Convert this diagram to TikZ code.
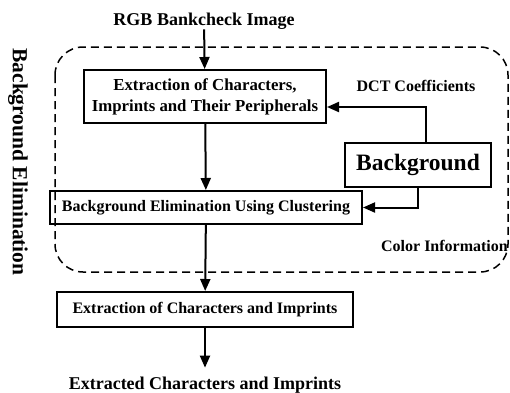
\documentclass[tikz,border=0pt]{standalone}
\usepackage{fontspec}
\setmainfont{Liberation Serif}
\usepackage{tikz}
\usetikzlibrary{arrows.meta}
\tikzset{flow/.style={-{Triangle[length=12pt,width=10pt]},line width=2pt}}
\tikzset{stage/.style={draw,line width=2pt,inner sep=0pt,align=center,font=\bfseries\fontsize{16}{21}\selectfont}}
\tikzset{caption/.style={inner sep=0pt,font=\bfseries\fontsize{16}{19}\selectfont}}
\begin{document}
\begin{tikzpicture}[x=1pt,y=-1pt]
    \useasboundingbox (0,0) rectangle (510,392);
    \node[caption,font=\bfseries\fontsize{18}{21}\selectfont] (src) at (204,21) {RGB Bankcheck Image};
    \node[stage,minimum width=242pt,minimum height=53pt,font=\bfseries\fontsize{16.8}{21}\selectfont] (ext1) at (205,96.5) {Extraction of Characters,\\Imprints and Their Peripherals};
    \node[stage,minimum width=146pt,minimum height=44pt,font=\bfseries\fontsize{23.5}{26}\selectfont] (bg) at (418,165) {Background};
    \node[stage,minimum width=312pt,minimum height=33pt] (elim) at (206,207.5) {Background Elimination Using Clustering};
    \node[stage,minimum width=296pt,minimum height=35pt] (ext2) at (205,309.5) {Extraction of Characters and Imprints};
    \node[caption,font=\bfseries\fontsize{18}{21}\selectfont] (out) at (205,385) {Extracted Characters and Imprints};
    \node[caption] (dct) at (416,86) {DCT Coefficients};
    \node[caption,anchor=east] (col) at (508,246) {Color Information};
    \node[caption,rotate=-90,font=\bfseries\fontsize{21.5}{24}\selectfont] (side) at (18,162) {Background Elimination};
    % dashed region
    \draw[line width=1.5pt,dash pattern=on 8pt off 5pt,rounded corners=28pt] (55,47) rectangle (508,272);
    \draw[flow] (src) -- (ext1);
    \draw[flow] ([xshift=8pt]bg.north) |- ([yshift=-10.5pt]ext1.east);
    \draw[flow] (bg.south) |- (elim.east);
    \draw[flow] (ext1) -- (elim);
    \draw[flow] (elim) -- (ext2);
    \draw[flow] (ext2) -- ([yshift=9pt]out.north);
\end{tikzpicture}
\end{document}
